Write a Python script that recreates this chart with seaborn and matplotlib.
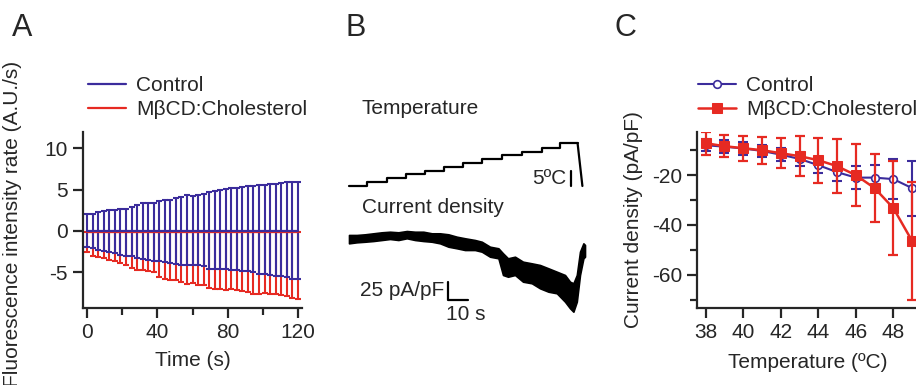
import matplotlib
matplotlib.use("Agg")
import matplotlib.pyplot as plt
import seaborn as sns

sns.set_style("ticks")
plt.rcParams['font.family'] = ['Liberation Sans', 'DejaVu Sans']
plt.rcParams['font.size'] = 15
plt.rcParams['axes.unicode_minus'] = False

BLUE = '#3b2c9c'
RED = '#e62a22'

# ---- A: fluorescence intensity rate vs time
time_s = [0.0, 3.2, 6.3, 9.5, 12.6, 15.8, 18.9, 22.1, 25.3, 28.4, 31.6, 34.7, 37.9,
          41.1, 44.2, 47.4, 50.5, 53.7, 56.8, 60.0, 63.2, 66.3, 69.5, 72.6, 75.8, 78.9,
          82.1, 85.3, 88.4, 91.6, 94.7, 97.9, 101.1, 104.2, 107.4, 110.5, 113.7, 116.8, 120.0]
ctrl_mean = [0.0, 0.0, 0.0, 0.0, 0.0, 0.0, 0.0, 0.0, 0.0, 0.0, 0.0, 0.0, 0.0,
             0.0, 0.0, 0.0, 0.0, 0.0, 0.0, 0.0, 0.0, 0.0, 0.0, 0.0, 0.0, 0.0,
             0.0, 0.0, 0.0, 0.0, 0.0, 0.0, 0.0, 0.0, 0.0, 0.0, 0.0, 0.0, 0.0]
ctrl_hi = [2.05, 2.1, 2.25, 2.4, 2.5, 2.5, 2.6, 2.7, 2.9, 3.2, 3.35, 3.35, 3.4,
           3.6, 3.7, 3.75, 3.95, 4.15, 4.3, 4.2, 4.35, 4.5, 4.75, 4.9, 4.95, 5.1,
           5.25, 5.15, 5.35, 5.5, 5.5, 5.55, 5.55, 5.65, 5.7, 5.8, 5.9, 5.9, 5.97]
ctrl_lo = [-2.0, -2.1, -2.3, -2.4, -2.6, -2.7, -2.9, -3.0, -3.1, -3.3, -3.4, -3.5, -3.6,
           -3.7, -3.8, -3.9, -4.0, -4.1, -4.1, -4.1, -4.1, -4.2, -4.6, -4.6, -4.6, -4.6,
           -4.7, -4.7, -4.9, -4.9, -5.0, -5.25, -5.25, -5.3, -5.5, -5.5, -5.6, -5.85, -5.85]
mbcd_mean = [-0.15, -0.15, -0.15, -0.15, -0.15, -0.15, -0.15, -0.15, -0.15, -0.15, -0.15, -0.15, -0.15,
             -0.15, -0.15, -0.15, -0.15, -0.15, -0.15, -0.15, -0.15, -0.15, -0.15, -0.15, -0.15, -0.15,
             -0.15, -0.15, -0.15, -0.15, -0.15, -0.15, -0.15, -0.15, -0.15, -0.15, -0.15, -0.15, -0.15]
mbcd_lo = [-2.5, -3.0, -3.2, -3.3, -3.5, -3.7, -3.9, -4.1, -4.5, -4.7, -4.8, -4.9, -5.0,
           -5.6, -5.8, -5.9, -6.0, -6.2, -6.4, -6.3, -6.5, -6.6, -6.9, -7.1, -7.0, -7.2,
           -7.1, -7.2, -7.3, -7.4, -7.7, -7.6, -7.5, -7.6, -7.7, -7.8, -7.9, -8.1, -8.3]

# ---- B: example traces (temperature steps, current density envelope)
temp_t = [0.0, 8.8, 18.8, 28.5, 38.0, 47.7, 57.2, 66.3, 76.3, 86.3, 96.3, 105.5, 114.3]
temp_c = [35.0, 36.2, 37.6, 38.9, 40.1, 41.4, 42.7, 44.0, 45.3, 46.4, 47.8, 49.2, 49.2]
temp_drop_t = [114.3, 116.7]
temp_drop_c = [49.2, 35.0]

cur_t = [0.0, 3.9, 8.0, 12.2, 16.4, 20.5, 24.7, 28.9, 33.0, 37.2, 41.4, 45.5, 49.7,
         53.9, 58.0, 63.0, 66.4, 70.5, 74.7, 77.0, 79.5, 83.0, 87.0, 91.4, 95.5,
         99.7, 103.9, 108.0, 110.5, 112.2, 113.9, 115.5, 117.2, 118.0]
cur_top = [-6.9, -6.9, -6.0, -4.6, -3.2, -2.4, -3.2, -1.4, -2.4, -2.4, -4.6, -4.6, -6.0,
           -9.3, -11.5, -13.9, -16.3, -23.2, -25.4, -32.4, -39.3, -37.1, -44.0, -46.3, -48.6,
           -53.2, -57.9, -62.5, -71.8, -74.0, -62.5, -30.1, -18.5, -20.8]
cur_bot = [-18.5, -17.1, -16.3, -15.3, -13.9, -12.5, -13.9, -11.5, -13.9, -15.3, -16.3, -18.5, -23.2,
           -25.4, -27.8, -27.8, -30.1, -37.1, -39.3, -62.5, -64.9, -62.5, -71.8, -74.0, -81.0,
           -85.7, -87.9, -99.6, -108.7, -113.5, -99.6, -62.5, -39.3, -37.1]

# ---- C: current density vs temperature
temps = [38, 39, 40, 41, 42, 43, 44, 45, 46, 47, 48, 49]
ctrl_c = [-8.0, -8.6, -9.3, -10.3, -11.8, -13.5, -16.0, -18.8, -21.0, -21.0, -21.6, -25.2]
ctrl_c_err = [2.5, 2.5, 2.5, 2.5, 2.5, 2.8, 3.0, 3.5, 4.7, 5.0, 8.0, 11.0]
mbcd_c = [-7.2, -8.4, -9.2, -10.0, -11.2, -12.4, -14.0, -16.4, -20.0, -25.2, -33.2, -46.4]
mbcd_c_err = [4.6, 4.5, 5.0, 5.4, 6.0, 8.0, 9.0, 10.7, 12.3, 13.5, 19.0, 23.5]

W, H = 916, 385
fig = plt.figure(figsize=(W / 100, H / 100), dpi=100)


def px_axes(left, top, right, bottom):
    return fig.add_axes([left / W, 1 - bottom / H, (right - left) / W, (bottom - top) / H])


def igor_axes(ax):
    sns.despine(ax=ax)
    for s in ('left', 'bottom'):
        ax.spines[s].set_linewidth(1.6)
    ax.tick_params(width=1.6, length=7, labelsize=15, pad=4)
    ax.tick_params(which='minor', width=1.6, length=5)


# panel A
axA = px_axes(83, 132, 302, 308)
sns.lineplot(x=time_s, y=ctrl_mean, ax=axA, color=BLUE, lw=1.6, label='Control', zorder=4)
sns.lineplot(x=time_s, y=mbcd_mean, ax=axA, color=RED, lw=1.6, label='M\u03b2CD:Cholesterol', zorder=3)
handles, labels = axA.get_legend_handles_labels()
err_lo = [m - l for m, l in zip(mbcd_mean, mbcd_lo)]
axA.errorbar(time_s, mbcd_mean, yerr=[err_lo, [0] * len(err_lo)], fmt='none',
             ecolor=RED, elinewidth=1.5, capsize=2.4, capthick=1.5, zorder=1)
axA.errorbar(time_s, ctrl_mean,
             yerr=[[m - l for m, l in zip(ctrl_mean, ctrl_lo)],
                   [h - m for m, h in zip(ctrl_mean, ctrl_hi)]],
             fmt='none', ecolor=BLUE, elinewidth=1.5, capsize=2.4, capthick=1.5, zorder=2)
axA.set_xlim(-2.3, 122.3)
axA.set_ylim(-9.35, 12.0)
axA.set_xticks([0, 40, 80, 120])
axA.set_xticks([20, 60, 100], minor=True)
axA.set_yticks([-5, 0, 5, 10])
igor_axes(axA)
axA.set_xlabel('Time (s)', fontsize=15, labelpad=6)
axA.set_ylabel('Fluorescence intensity rate (A.U./s)', fontsize=15)
axA.yaxis.set_label_coords(-0.28, 0.48)
axA.legend(handles, labels, loc='upper left', bbox_to_anchor=(88 / W, 1 - 76 / H),
           bbox_transform=fig.transFigure, frameon=False, fontsize=15,
           handlelength=1.8, handletextpad=0.5, labelspacing=0.25, borderpad=0, borderaxespad=0)

# panel B
axT = px_axes(340, 130, 600, 200)
axT.step(temp_t, temp_c, where='post', color='black', lw=1.6)
axT.plot(temp_drop_t, temp_drop_c, color='black', lw=1.6)
axT.plot([111, 111], [35, 40], color='black', lw=1.6)
axT.text(108.5, 37.5, '5\u00baC', ha='right', va='center', fontsize=15)
axT.set_xlim(-4.5, 125.5)
axT.set_ylim(30.33, 53.67)
axT.axis('off')

axI = px_axes(340, 220, 600, 330)
axI.fill_between(cur_t, cur_bot, cur_top, color='black', lw=1.2, edgecolor='black')
axI.plot([49.5, 49.5, 59.5], [-72.2, -97.2, -97.2], color='black', lw=1.6)
axI.text(47.5, -84.7, '25 pA/pF', ha='right', va='center', fontsize=15)
axI.text(58.5, -116.7, '10 s', ha='center', va='center', fontsize=15)
axI.set_xlim(-4.5, 125.5)
axI.set_ylim(-138.9, 13.9)
axI.axis('off')

fig.text(362 / W, 1 - 109 / H, 'Temperature', ha='left', va='center', fontsize=15)
fig.text(362 / W, 1 - 208 / H, 'Current density', ha='left', va='center', fontsize=15)

# panel C
axC = px_axes(697.3, 132, 917.7, 308)
axC.errorbar(temps, ctrl_c, yerr=ctrl_c_err, fmt='none', ecolor=BLUE,
             elinewidth=1.5, capsize=3.5, capthick=1.5, zorder=1)
sns.lineplot(x=temps, y=ctrl_c, ax=axC, color=BLUE, lw=1.5, marker='o', markersize=5.5,
             markerfacecolor='white', markeredgecolor=BLUE, markeredgewidth=1.2,
             label='Control', zorder=2)
axC.errorbar(temps, mbcd_c, yerr=mbcd_c_err, fmt='none', ecolor=RED,
             elinewidth=1.6, capsize=3.5, capthick=1.6, zorder=3)
sns.lineplot(x=temps, y=mbcd_c, ax=axC, color=RED, lw=1.8, marker='s', markersize=6.5,
             markerfacecolor=RED, markeredgecolor=RED, label='M\u03b2CD:Cholesterol', zorder=4)
axC.set_xlim(37.55, 49.3)
axC.set_ylim(-73.3, -2.7)
axC.set_xticks([38, 40, 42, 44, 46, 48])
axC.set_yticks([-20, -40, -60])
axC.set_yticks([-10, -30, -50, -70], minor=True)
igor_axes(axC)
axC.set_xlabel('Temperature (\u00baC)', fontsize=15, labelpad=8)
axC.set_ylabel('Current density (pA/pF)', fontsize=15, labelpad=6)
axC.legend(loc='upper left', bbox_to_anchor=(698 / W, 1 - 76 / H),
           bbox_transform=fig.transFigure, frameon=False, fontsize=15,
           handlelength=1.8, handletextpad=0.5, labelspacing=0.25, borderpad=0, borderaxespad=0)

for x, lab in [(12, 'A'), (345, 'B'), (614, 'C')]:
    fig.text(x / W, 1 - 28 / H, lab, ha='left', va='center', fontsize=22)

fig.savefig('out.png', dpi=100)
